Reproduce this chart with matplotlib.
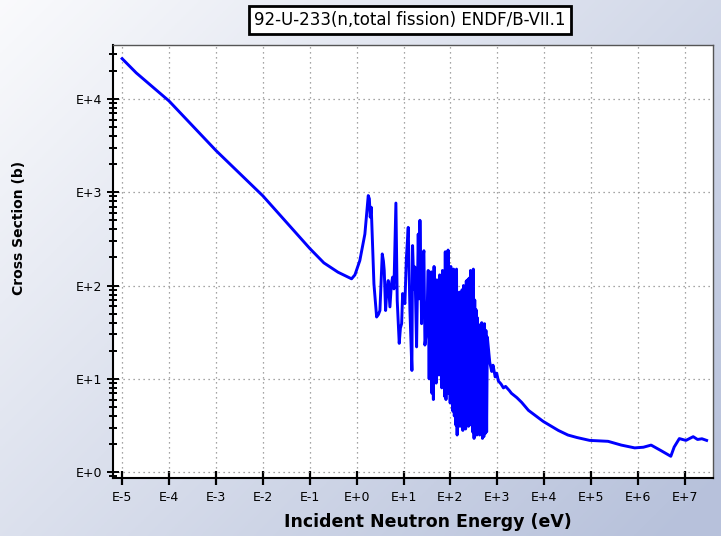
import numpy as np
import matplotlib.pyplot as plt
from matplotlib.ticker import FixedLocator, LogLocator, NullFormatter, NullLocator

# U-233 total fission cross section
energy_ev = [
    1e-5, 2e-5, 1e-4, 1e-3, 1e-2, 0.1, 0.2, 0.4, 0.78,
    # resolved resonances, low part
    0.92, 1.17, 1.50, 1.77, 1.87, 1.95, 2.05, 2.19, 2.34, 2.67,
    2.92, 3.14, 3.52, 3.73, 3.88, 4.15, 4.43, 4.72, 5.13, 5.52,
    5.86, 6.24, 6.88, 7.34, 8.10, 8.59, 9.12, 9.57, 10.7, 11.5,
    12.6, 13.7, 15.1, 15.6, 16.7, 17.5, 19.0, 20.6, 21.5, 22.4,
    24.3, 25.9, 27.2, 28.6, 31.1, 33.6,
    # dense resonance band
    35.2, 36.4, 37.7, 39.0, 40.4, 41.8, 43.3, 44.8, 46.4, 48.0,
    49.7, 51.4, 53.2, 55.1, 57.0, 59.0, 61.1, 63.2, 65.4, 67.7,
    70.1, 72.5, 75.1, 77.7, 80.4, 83.2, 86.1, 89.1, 92.3, 95.5,
    98.8, 102, 106, 110, 113, 117, 121, 126, 130, 135,
    139, 144, 149, 155, 160, 166, 171, 177, 184, 190,
    197, 204, 211, 218, 226, 234, 242, 250, 259, 268,
    278, 287, 297, 308, 319, 330, 341, 353, 366, 378,
    392, 405, 420, 434, 450, 465, 482, 498, 516, 534,
    553, 572, 592, 613,
    # unresolved / fast region
    690, 760, 810, 900, 970, 1050, 1200, 1350, 1500, 1800,
    2000, 2600, 3300, 4600, 9500, 2.0e4, 3.2e4, 5.0e4, 9.3e4, 2.3e5,
    4.4e5, 8.5e5, 1.3e6, 1.9e6, 3.1e6, 5.0e6, 5.9e6, 7.6e6, 1.05e7, 1.5e7,
    1.86e7, 2.3e7, 2.9e7,
]
xs_barn = [
    27000, 19000, 9500, 2800, 915, 250, 175, 139, 118,
    130, 185, 356, 920, 850, 540, 690, 260, 104, 46,
    49, 54, 218, 183, 145, 54, 92, 113, 59, 104,
    123, 92, 765, 69, 24, 35, 39, 82, 64, 194,
    420, 54, 12.3, 268, 92, 158, 22, 356, 72, 500,
    39, 194, 236, 23, 33, 145,
    10, 80, 14, 140, 7, 95, 6, 160, 12, 70,
    9, 115, 15, 90, 11, 130, 12, 75, 8, 145,
    9, 100, 6.5, 230, 6, 130, 9, 240, 7, 120,
    5.5, 160, 6, 90, 4.5, 150, 4, 75, 3.2, 150,
    2.5, 70, 3.5, 85, 3.1, 65, 4, 90, 2.8, 100,
    3, 80, 2.9, 112, 3.6, 115, 3.1, 120, 3.2, 145,
    4, 130, 2.7, 150, 2.3, 70, 3, 55, 2.5, 45,
    3.3, 38, 2.5, 36, 2.8, 40, 2.3, 30, 2.4, 39,
    2.6, 33, 2.7, 28,
    15, 12, 14, 10.5, 11.5, 9.5, 8.8, 8.0, 8.3, 7.5,
    7.0, 6.3, 5.6, 4.6, 3.5, 2.8, 2.5, 2.35, 2.19, 2.14,
    1.95, 1.82, 1.85, 1.95, 1.70, 1.48, 1.86, 2.29, 2.19, 2.4,
    2.24, 2.28, 2.19,
]

x_tick_exp = list(range(-5, 8))
y_tick_exp = list(range(0, 5))
title = "92-U-233(n,total fission) ENDF/B-VII.1"


def exp_label(p):
    return f"E{p:+d}"


def plot_cross_section(save_path=None):
    fig = plt.figure(figsize=(7.21, 5.36), dpi=100)

    # soft diagonal background like the web plotter
    bg = fig.add_axes([0, 0, 1, 1], zorder=-10)
    gx, gy = np.meshgrid(np.linspace(0, 1, 256), np.linspace(0, 1, 256))
    t = np.clip(0.6 * gx + 0.45 * gy, 0, 1)[..., None]
    c0 = np.array([0.98, 0.982, 0.99])
    c1 = np.array([0.72, 0.76, 0.86])
    bg.imshow(c0 * (1 - t) + c1 * t, aspect="auto", extent=(0, 1, 0, 1))
    bg.set_axis_off()

    ax = fig.add_axes([0.157, 0.109, 0.832, 0.8075])
    ax.set_facecolor("white")
    ax.plot(energy_ev, xs_barn, color="#0000ff", linewidth=2.1)

    ax.set_xscale("log")
    ax.set_yscale("log")
    ax.set_xlim(10 ** -5.19, 10 ** 7.60)
    ax.set_ylim(10 ** -0.058, 10 ** 4.58)

    ax.xaxis.set_major_locator(FixedLocator([10.0 ** p for p in x_tick_exp]))
    ax.set_xticklabels([exp_label(p) for p in x_tick_exp])
    ax.xaxis.set_minor_locator(NullLocator())
    ax.yaxis.set_major_locator(FixedLocator([10.0 ** p for p in y_tick_exp]))
    ax.set_yticklabels([exp_label(p) for p in y_tick_exp])
    ax.yaxis.set_minor_locator(LogLocator(base=10, subs=range(2, 10)))
    ax.yaxis.set_minor_formatter(NullFormatter())

    ax.tick_params(axis="x", which="major", direction="inout", length=10,
                   width=1.6, pad=5, labelsize=9)
    ax.tick_params(axis="y", which="major", direction="inout", length=8,
                   width=1.4, pad=4, labelsize=9)
    ax.tick_params(axis="y", which="minor", direction="inout", length=5.5,
                   width=1.4)

    ax.grid(True, which="major", linestyle=(0, (1, 3)), color="#888888",
            linewidth=0.9)

    for side in ("left", "bottom"):
        ax.spines[side].set_linewidth(1.5)
        ax.spines[side].set_color("black")
    for side in ("top", "right"):
        ax.spines[side].set_linewidth(1.0)
        ax.spines[side].set_color("#555555")

    fig.text(0.569, 0.963, title, ha="center", va="center", fontsize=12,
             bbox=dict(boxstyle="square,pad=0.3", fc="white", ec="black", lw=2))
    fig.text(0.593, 0.026, "Incident Neutron Energy (eV)", ha="center",
             va="center", fontsize=12.5, fontweight="bold")
    fig.text(0.026, 0.575, "Cross Section (b)", ha="center", va="center",
             rotation=90, fontsize=10, fontweight="bold")

    if save_path:
        fig.savefig(save_path, dpi=100)

    return fig, ax


if __name__ == "__main__":
    plot_cross_section("out.png")
